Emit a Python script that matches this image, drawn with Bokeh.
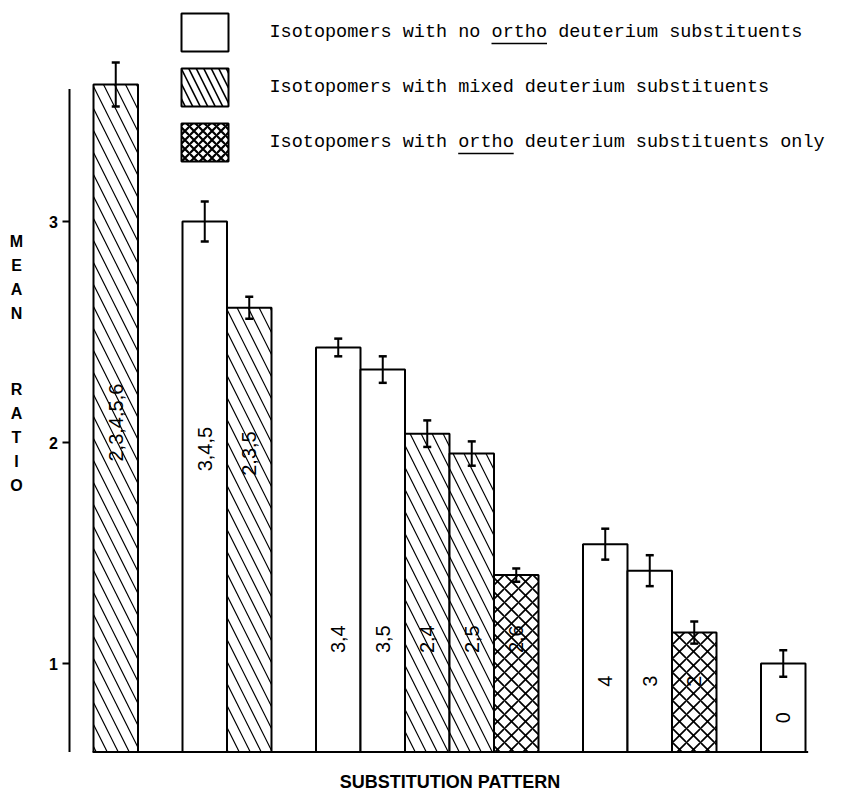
import math
from bokeh.plotting import figure
from bokeh.models import Range1d
from bokeh.core.properties import value
from bokeh.embed import file_html
from bokeh.resources import INLINE

# ---------------- data ----------------
patterns = ["2,3,4,5,6", "3,4,5", "2,3,5", "3,4", "3,5", "2,4", "2,5", "2,6", "4", "3", "2", "0"]
slots = [0, 2, 3, 5, 6, 7, 8, 9, 11, 12, 13, 15]
groups = ["mixed", "none", "mixed", "none", "none", "mixed", "mixed", "ortho", "none", "none", "ortho", "none"]
mean_ratio = [3.62, 3.00, 2.61, 2.43, 2.33, 2.04, 1.95, 1.40, 1.54, 1.42, 1.14, 1.00]
error = [0.10, 0.09, 0.05, 0.04, 0.06, 0.06, 0.055, 0.03, 0.07, 0.07, 0.05, 0.06]
y_ticks = [1, 2, 3]
y_tick_labels = ["1", "2", "3"]
legend_groups = ["none", "mixed", "ortho"]
legend_texts = [
    "Isotopomers with no ortho deuterium substituents",
    "Isotopomers with mixed deuterium substituents",
    "Isotopomers with ortho deuterium substituents only",
]
y_title_letters = ["M", "E", "A", "N", "R", "A", "T", "I", "O"]
x_title = "SUBSTITUTION  PATTERN"

# ---------------- layout / style ----------------
W, H = 840, 790
PX_SLOT = 44.5      # pixels per bar slot
PX_UNIT = 221.0     # pixels per ratio unit
X0_PX = 93.0        # left edge of first bar slot
Y3_PX = 221.0       # pixel row of ratio 3


def sx(px):
    return (px - X0_PX) / PX_SLOT - 0.5


def sy(py):
    return 3 + (Y3_PX - py) / PX_UNIT


BASE = 0.6
AXIS_TOP = 3.6
label_y = [2.09, 1.97, 1.95, 1.11, 1.11, 1.11, 1.11, 1.11, 0.92, 0.92, 0.92, 0.755]
hatch = {"none": None, "mixed": "\\", "ortho": "x"}
bar_hatch_scale = {"mixed": 22, "ortho": 14}
bar_hatch_weight = {"mixed": 1.2, "ortho": 1.7}
leg_hatch_scale = {"mixed": 15, "ortho": 9}
leg_hatch_weight = {"mixed": 1.6, "ortho": 2.2}

p = figure(width=W, height=H, output_backend="svg", toolbar_location=None,
           x_range=Range1d(sx(0), sx(W)), y_range=Range1d(sy(H), sy(0)),
           x_axis_location=None, y_axis_location=None, min_border=0)
p.outline_line_color = None
p.xgrid.visible = False
p.ygrid.visible = False
p.background_fill_color = "white"
p.border_fill_color = "white"

# y axis (drawn through the data scales)
p.segment(x0=[sx(69)], y0=[BASE], x1=[sx(69)], y1=[AXIS_TOP], line_color="black", line_width=2)
p.segment(x0=[sx(62)] * len(y_ticks), y0=y_ticks, x1=[sx(69)] * len(y_ticks), y1=y_ticks,
          line_color="black", line_width=2)
p.text(x=[sx(53)] * len(y_ticks), y=y_ticks, text=y_tick_labels, text_align="center",
       text_baseline="middle", text_font=value("Liberation Sans"), text_font_style="bold",
       text_font_size="16px", text_color="black")

# bars
for g in ["none", "mixed", "ortho"]:
    idx = [i for i, gg in enumerate(groups) if gg == g]
    xs = [slots[i] for i in idx]
    tops = [mean_ratio[i] for i in idx]
    kw = {}
    if hatch[g]:
        kw = dict(hatch_pattern=hatch[g], hatch_color="black",
                  hatch_scale=bar_hatch_scale[g], hatch_weight=bar_hatch_weight[g])
    p.vbar(x=xs, top=tops, bottom=BASE, width=1.0, fill_color="white",
           line_color="black", line_width=2, **kw)

# baseline
p.segment(x0=[min(slots) - 0.52], y0=[BASE], x1=[max(slots) + 0.56], y1=[BASE],
          line_color="black", line_width=2)

# error bars
lo = [m - e for m, e in zip(mean_ratio, error)]
hi = [m + e for m, e in zip(mean_ratio, error)]
cap = 0.09
p.segment(x0=slots, y0=lo, x1=slots, y1=hi, line_color="black", line_width=2)
p.segment(x0=[s - cap for s in slots], y0=hi, x1=[s + cap for s in slots], y1=hi,
          line_color="black", line_width=2.5)
p.segment(x0=[s - cap for s in slots], y0=lo, x1=[s + cap for s in slots], y1=lo,
          line_color="black", line_width=2.5)

# bar labels
p.text(x=slots, y=label_y, text=patterns, angle=math.pi / 2,
       text_align="center", text_baseline="middle",
       text_font=value("Liberation Sans"), text_font_size="20px", text_color="black")

# legend (manual)
box_left, box_right = sx(181), sx(228)
box_tops_px = [13, 68, 123]
box_h_px = 38
text_x_px = 269
char_px = 11.1
for k, g in enumerate(legend_groups):
    kw = {}
    if hatch[g]:
        kw = dict(hatch_pattern=hatch[g], hatch_color="black",
                  hatch_scale=leg_hatch_scale[g], hatch_weight=leg_hatch_weight[g])
    top_px = box_tops_px[k]
    p.quad(left=[box_left], right=[box_right], top=[sy(top_px)], bottom=[sy(top_px + box_h_px)],
           fill_color="white", line_color="black", line_width=2, **kw)
    ty_px = top_px + box_h_px / 2
    p.text(x=[sx(text_x_px)], y=[sy(ty_px)], text=[legend_texts[k]], text_align="left",
           text_baseline="middle", text_font=value("Liberation Mono"), text_font_size="18.5px",
           text_color="black")
    t = legend_texts[k]
    j = t.find("ortho")
    if j >= 0:
        p.segment(x0=[sx(text_x_px + j * char_px)], y0=[sy(ty_px + 11)],
                  x1=[sx(text_x_px + (j + 5) * char_px)], y1=[sy(ty_px + 11)],
                  line_color="black", line_width=1.3)

# y axis title: stacked letters
letter_px = [241, 265, 289, 313, 389, 413, 437, 461, 485]
p.text(x=[sx(16)] * len(y_title_letters), y=[sy(v) for v in letter_px], text=y_title_letters,
       text_align="center", text_baseline="middle", text_font=value("Liberation Sans"),
       text_font_style="bold", text_font_size="16px", text_color="black")

# x axis title
p.text(x=[sx(452)], y=[sy(781)], text=[x_title], text_align="center", text_baseline="middle",
       text_font=value("Liberation Sans"), text_font_style="bold", text_font_size="18px",
       text_color="black")

open("out.html", "w").write(file_html(p, INLINE))
